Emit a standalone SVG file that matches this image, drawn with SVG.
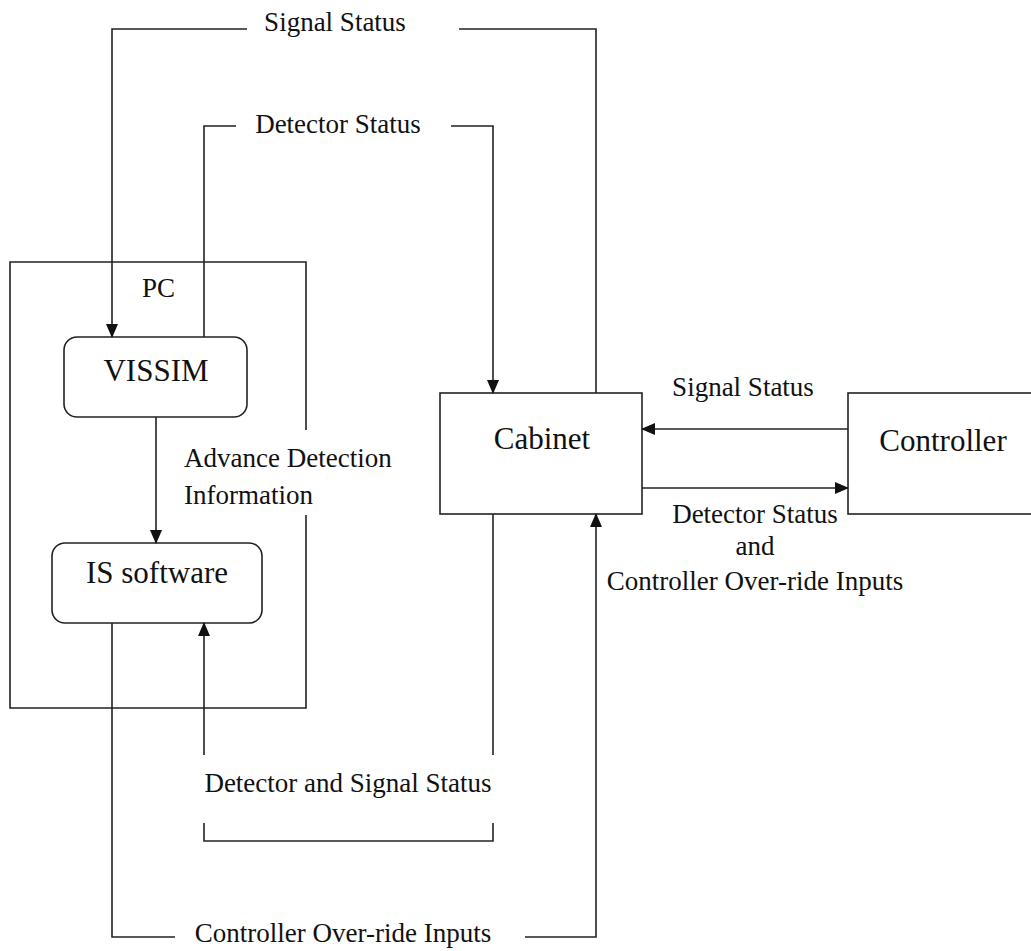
<svg xmlns="http://www.w3.org/2000/svg" width="1031" height="951" viewBox="0 0 1031 951">
<style>
  .ln{fill:none;stroke:#222;stroke-width:1.6}
  .bx{fill:#fff;stroke:#222;stroke-width:1.6}
  .lbl{font-family:"Liberation Serif","Times New Roman",serif;font-size:27px;fill:#111}
  .nl{font-family:"Liberation Serif","Times New Roman",serif;font-size:31px;fill:#111}
</style>
<defs>
  <marker id="ah" markerUnits="userSpaceOnUse" markerWidth="14" markerHeight="12" viewBox="0 0 14 12" refX="13" refY="6" orient="auto">
    <path d="M0,0 L14,6 L0,12 Z" fill="#111"/>
  </marker>
</defs>
<rect width="1031" height="951" fill="#fff"/>

<g id="pc">
  <path class="ln" d="M306,430 V262 H10 V708 H306 V515"/>
  <text class="lbl" x="142" y="297" font-size="26">PC</text>
</g>
<g id="vissim">
  <rect class="bx" x="64" y="337" width="183" height="80" rx="13"/>
  <text class="nl" x="156" y="381" text-anchor="middle">VISSIM</text>
</g>
<g id="is-software">
  <rect class="bx" x="52" y="543" width="210" height="80" rx="13"/>
  <text class="nl" x="157" y="583" text-anchor="middle">IS software</text>
</g>
<g id="cabinet">
  <rect class="bx" x="440" y="393" width="202" height="121"/>
  <text class="nl" x="542" y="449" text-anchor="middle">Cabinet</text>
</g>
<g id="controller">
  <rect class="bx" x="848" y="393" width="200" height="121"/>
  <text class="nl" x="943" y="451" text-anchor="middle">Controller</text>
</g>

<g id="connectors">
  <!-- Signal Status top: cabinet -> VISSIM -->
  <path class="ln" d="M596,393 V29 H459"/>
  <path class="ln" d="M247,29 H112 V337" marker-end="url(#ah)"/>
  <text class="lbl" x="335" y="31" text-anchor="middle">Signal Status</text>

  <!-- Detector Status top: VISSIM -> cabinet -->
  <path class="ln" d="M204,337 V126 H236"/>
  <path class="ln" d="M451,126 H493 V393" marker-end="url(#ah)"/>
  <text class="lbl" x="338" y="133" text-anchor="middle">Detector Status</text>

  <!-- VISSIM -> IS software -->
  <path class="ln" d="M156,417 V543" marker-end="url(#ah)"/>
  <text class="lbl" x="184" y="467">Advance Detection</text>
  <text class="lbl" x="184" y="504">Information</text>

  <!-- Controller -> Cabinet signal status -->
  <path class="ln" d="M848,429 H642" marker-end="url(#ah)"/>
  <text class="lbl" x="743" y="396" text-anchor="middle">Signal Status</text>

  <!-- Cabinet -> Controller detector status -->
  <path class="ln" d="M642,488 H848" marker-end="url(#ah)"/>
  <text class="lbl" x="755" y="523" text-anchor="middle">Detector Status</text>
  <text class="lbl" x="755" y="555" text-anchor="middle">and</text>
  <text class="lbl" x="755" y="590" text-anchor="middle">Controller Over-ride Inputs</text>

  <!-- Cabinet -> IS software detector and signal status -->
  <path class="ln" d="M493,514 V755"/>
  <path class="ln" d="M493,823 V841 H204 V823"/>
  <path class="ln" d="M204,755 V623" marker-end="url(#ah)"/>
  <text class="lbl" x="348" y="792" text-anchor="middle">Detector and Signal Status</text>

  <!-- IS software -> Cabinet controller over-ride inputs -->
  <path class="ln" d="M112,623 V937 H175"/>
  <path class="ln" d="M525,937 H596 V514" marker-end="url(#ah)"/>
  <text class="lbl" x="343" y="942" text-anchor="middle">Controller Over-ride Inputs</text>
</g>
</svg>
